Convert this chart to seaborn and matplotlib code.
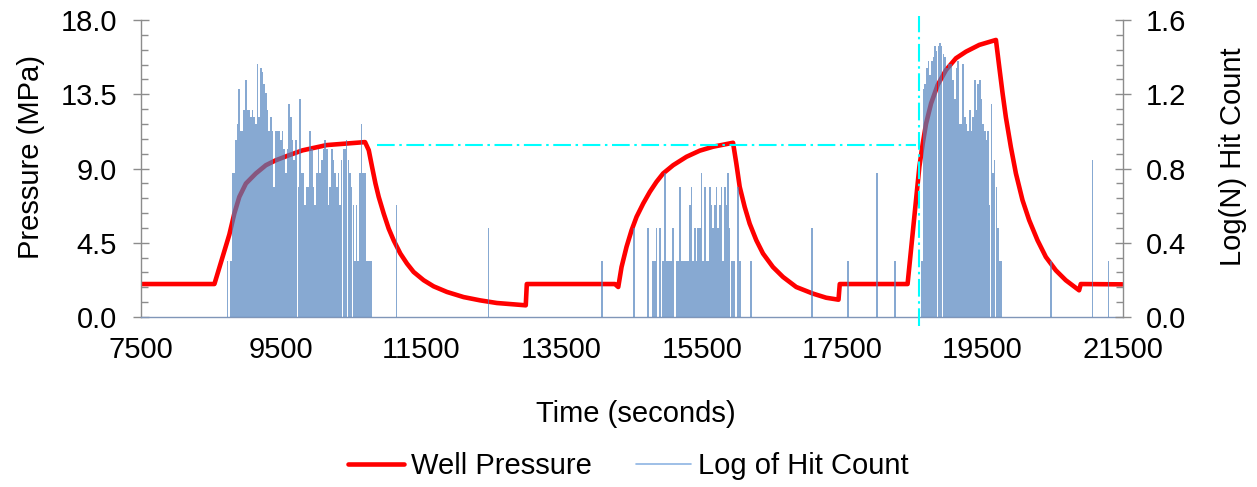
import numpy as np
import pandas as pd
import matplotlib
matplotlib.use("Agg")
import matplotlib.pyplot as plt
from matplotlib.ticker import MultipleLocator, FormatStrFormatter
from matplotlib.lines import Line2D
import seaborn as sns

# ---------------- data ----------------
pressure_time_s = [
    7500, 8550, 8763, 8834, 8905, 8999, 9141, 9284, 9426, 9617, 9806, 10152, 10698,
    10751, 10798, 10846, 10893, 10964, 11035, 11106, 11201, 11296, 11391, 11534, 11676,
    11866, 12103, 12340, 12578, 12815, 12990,
    13005, 14261, 14309, 14356, 14427, 14499, 14570, 14665, 14760, 14854, 14949, 15092,
    15282, 15471, 15661, 15851, 15946,
    15993, 16041, 16112, 16183, 16278, 16373, 16515, 16658, 16847, 17085, 17274, 17450,
    17468, 18435, 18603, 18651, 18698, 18770, 18864, 18983, 19125, 19268, 19458, 19695,
    19742, 19790, 19837, 19908, 19980, 20074, 20169, 20288, 20407, 20549, 20691, 20881,
    20905, 21500]
pressure_mpa = [
    2.0, 2.0, 5.0, 6.27, 7.28, 8.09, 8.70, 9.20, 9.50, 9.81, 10.10, 10.42, 10.60,
    10.11, 9.10, 8.10, 7.28, 6.27, 5.36, 4.65, 3.85, 3.24, 2.73, 2.23, 1.86,
    1.52, 1.21, 1.01, 0.85, 0.77, 0.71,
    2.0, 2.0, 1.82, 3.03, 4.25, 5.26, 6.07, 6.88, 7.59, 8.19, 8.70, 9.20,
    9.71, 10.08, 10.32, 10.48, 10.56,
    9.30, 7.89, 6.67, 5.66, 4.65, 3.85, 3.03, 2.43, 1.82, 1.42, 1.17, 1.05,
    2.0, 2.0, 9.10, 10.50, 11.70, 12.94, 14.06, 14.97, 15.68, 16.08, 16.49, 16.79,
    15.17, 13.55, 12.10, 10.30, 8.70, 7.08, 5.87, 4.65, 3.64, 2.83, 2.23, 1.62,
    2.0, 1.98]

hit_time_s = [
    # first pressurisation
    8738, 8786, 8810, 8833, 8857, 8881, 8905, 8928, 8952, 8976, 9000, 9023, 9047, 9071,
    9094, 9118, 9142, 9166, 9189, 9213, 9237, 9261, 9284, 9308, 9332, 9355, 9379, 9403,
    9426, 9450, 9474, 9497, 9521, 9545, 9568, 9592, 9616, 9640, 9663, 9687, 9711,
    9749, 9773, 9796, 9820, 9844, 9868, 9891, 9915, 9939, 9962, 9986, 10010, 10033, 10057,
    10081, 10104, 10128, 10152, 10175, 10199, 10223, 10246, 10270, 10294, 10318, 10341,
    10365, 10389, 10412, 10436, 10460, 10483, 10507, 10531, 10555, 10578, 10602, 10626,
    10649, 10673, 10697, 10720, 10744, 10768, 10791, 11144, 12458,
    # second pressurisation
    14081, 14532, 14736, 14807, 14831, 14855, 14902, 14950, 14973, 14997, 15021, 15044,
    15068, 15092, 15139, 15163, 15187, 15210, 15234, 15258, 15282, 15305, 15329, 15353,
    15376, 15400, 15424, 15448, 15471, 15495, 15519, 15542, 15566, 15590, 15614, 15637,
    15661, 15685, 15708, 15732, 15756, 15780, 15803, 15827, 15851, 15874, 15898, 15922,
    15946, 15969, 16017, 16041, 16198, 17070, 17582, 17999, 18257,
    # third pressurisation
    18637, 18660, 18684, 18708, 18732, 18755, 18779, 18803, 18827, 18850, 18874, 18898,
    18921, 18945, 18969, 18993, 19016, 19040, 19064, 19087, 19111, 19132, 19155, 19179,
    19203, 19227, 19250, 19274, 19298, 19322, 19345, 19369, 19393, 19416, 19440, 19464,
    19487, 19511, 19535, 19559, 19582, 19606, 19630, 19654, 19677, 19701, 19725, 19749,
    19772, 20478, 21070, 21298]
hit_count = [
    2, 2, 6, 6, 9, 11, 17, 10, 10, 13, 19, 13, 13, 12,
    13, 12, 11, 23, 12, 22, 21, 18, 16, 13, 10, 12, 10, 5,
    10, 10, 10, 9, 10, 8, 6, 8, 14, 12, 9, 7, 9,
    5, 15, 6, 6, 4, 5, 5, 10, 8, 5, 4, 6, 8, 6,
    7, 8, 9, 8, 4, 5, 8, 7, 6, 5, 6, 4,
    7, 8, 8, 9, 7, 6, 5, 4, 2, 4, 2, 6,
    11, 6, 6, 2, 2, 2, 2, 4, 3,
    2, 3, 3, 2, 2, 3, 3, 2, 6, 2, 2, 2,
    2, 3, 2, 2, 5, 2, 2, 2, 2, 2, 4, 5,
    2, 3, 2, 3, 3, 6, 2, 5, 2, 2, 5, 4,
    3, 4, 5, 3, 4, 5, 2, 5, 4, 6, 3, 2,
    2, 2, 5, 2, 2, 3, 2, 6, 2,
    2, 17, 18, 22, 24, 20, 24, 25, 29, 27, 29, 30,
    29, 26, 25, 22, 23, 23, 23, 19, 15, 22, 24, 11,
    11, 23, 12, 11, 10, 13, 10, 12, 19, 13, 18, 19,
    15, 11, 10, 9, 10, 4, 14, 6, 7, 5, 3, 2,
    2, 2, 7, 2]

ref_pressure_mpa = 10.42
ref_line_start_s = 10870
ref_line_end_s = 18556
ref_vline_s = 18603

x_ticks = [7500, 9500, 11500, 13500, 15500, 17500, 19500, 21500]
p_ticks = [0.0, 4.5, 9.0, 13.5, 18.0]
log_ticks = [0.0, 0.4, 0.8, 1.2, 1.6]

# ---------------- style ----------------
sns.set_style("white")
plt.rcParams["font.family"] = ["Liberation Sans", "DejaVu Sans"]
plt.rcParams["text.color"] = "black"
plt.rcParams["axes.labelcolor"] = "black"
FS = 21
GREY = "#8c8c8c"

fig = plt.figure(figsize=(12.57, 4.87), dpi=100)
ax1 = fig.add_axes([0.112, 0.349, 0.781, 0.610])
ax2 = ax1.twinx()

press = pd.DataFrame({"t": pressure_time_s, "p": pressure_mpa})
hits = pd.DataFrame({"t": hit_time_s, "n": hit_count})
hits["logn"] = np.log10(hits["n"])

sns.lineplot(data=press, x="t", y="p", ax=ax1, color="#ff0000", linewidth=3.3,
             sort=False, estimator=None, legend=False)

ax2.bar(hits["t"], hits["logn"], width=23, color="#4f81bd", alpha=0.68,
        linewidth=0, align="center")

# cyan reference lines
ax2.plot([ref_line_start_s, ref_line_end_s], [ref_pressure_mpa, ref_pressure_mpa],
         transform=ax1.transData, color="#00ffff", linewidth=1.5,
         dashes=(8.5, 2.2, 1.2, 2.2), zorder=5)
ax2.axvline(ref_vline_s, ymin=-0.03, ymax=1.012, color="#00ffff", linewidth=1.5,
            dashes=(8.5, 2.2, 1.2, 2.2), clip_on=False, zorder=5)

# axes limits and ticks
ax1.set_xlim(7500, 21500)
ax1.set_ylim(0, 18)
ax2.set_ylim(0, 1.6)
ax1.set_xticks(x_ticks)
ax1.set_xticklabels([str(v) for v in x_ticks])
ax1.set_yticks(p_ticks)
ax1.yaxis.set_major_formatter(FormatStrFormatter("%.1f"))
ax1.yaxis.set_minor_locator(MultipleLocator(0.9))
ax2.set_yticks(log_ticks)
ax2.yaxis.set_major_formatter(FormatStrFormatter("%.1f"))
ax2.yaxis.set_minor_locator(MultipleLocator(0.08))

for ax in (ax1, ax2):
    for s in ax.spines.values():
        s.set_color(GREY)
        s.set_linewidth(1.0)
    ax.spines["top"].set_visible(False)
ax1.spines["right"].set_visible(False)
ax2.spines["left"].set_visible(False)
ax2.spines["bottom"].set_visible(False)
ax1.spines["bottom"].set_color("#8096b8")

ax1.tick_params(axis="x", which="major", direction="out", length=6, width=1,
                color=GREY, labelsize=FS, pad=8, labelcolor="black")
ax1.tick_params(axis="y", which="major", direction="inout", length=12, width=1,
                color=GREY, labelsize=FS, pad=11, labelcolor="black")
ax1.tick_params(axis="y", which="minor", direction="in", length=5, width=1, color=GREY, left=True)
ax2.tick_params(axis="y", which="major", direction="inout", length=12, width=1,
                color=GREY, labelsize=FS, pad=11, labelcolor="black")
ax2.tick_params(axis="y", which="minor", direction="in", length=5, width=1, color=GREY, right=True)
ax1.grid(False)
ax2.grid(False)

ax1.set_xlabel("Time (seconds)", fontsize=FS, color="black")
ax1.set_ylabel("Pressure (MPa)", fontsize=FS, color="black")
ax2.set_ylabel("Log(N) Hit Count", fontsize=FS, color="black")
ax1.xaxis.set_label_coords(0.504, -0.28)
ax1.yaxis.set_label_coords(-0.098, 0.539)
ax2.yaxis.set_label_coords(1.098, 0.539)

handles = [Line2D([0], [0], color="#ff0000", linewidth=3.3),
           Line2D([0], [0], color="#8eb4e3", linewidth=1.2)]
fig.legend(handles, ["Well Pressure", "Log of Hit Count"], loc="center",
           bbox_to_anchor=(0.5, 0.043), ncol=2, frameon=False, fontsize=FS,
           handlelength=1.9, handletextpad=0.25, columnspacing=1.5)

fig.savefig("out.png", dpi=100)
